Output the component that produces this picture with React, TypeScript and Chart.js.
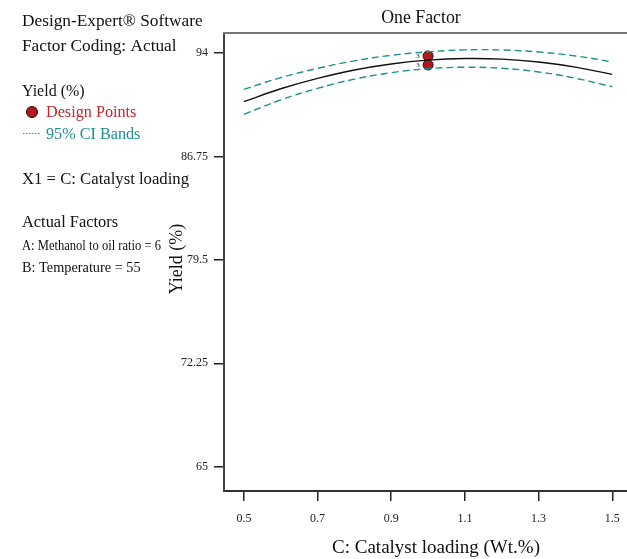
import React, { useEffect, useRef } from "react";
import { Chart, registerables } from "chart.js";

Chart.register(...registerables);

const xValues = [0.5, 0.6, 0.7, 0.8, 0.9, 1.0, 1.1, 1.2, 1.3, 1.4, 1.5];
const predicted = [90.59, 91.49, 92.22, 92.81, 93.23, 93.5, 93.61, 93.57, 93.37, 93.01, 92.5];
const ciUpper = [91.45, 92.27, 92.92, 93.45, 93.84, 94.08, 94.22, 94.21, 94.07, 93.79, 93.38];
const ciLower = [89.7, 90.71, 91.52, 92.17, 92.62, 92.9, 93.0, 92.93, 92.67, 92.23, 91.63];
const designX = [1.0, 1.0];
const designY = [93.79, 93.16];
const replicateLabels = ["3", "3"];
const xTicks = [0.5, 0.7, 0.9, 1.1, 1.3, 1.5];
const xTickLabels = ["0.5", "0.7", "0.9", "1.1", "1.3", "1.5"];
const yTicks = [65, 72.25, 79.5, 86.75, 94];
const yTickLabels = ["65", "72.25", "79.5", "86.75", "94"];

const SERIF = "'Liberation Serif', 'DejaVu Serif', serif";
const TEAL = "#1b9190";
const RED = "#c1272d";

const textPlugin = {
  id: "textPlugin",
  afterDraw(chart: any) {
    const ctx = chart.ctx;
    const ca = chart.chartArea;
    ctx.save();
    // top border
    ctx.strokeStyle = "#777";
    ctx.lineWidth = 2;
    ctx.beginPath();
    ctx.moveTo(ca.left - 1, ca.top);
    ctx.lineTo(627, ca.top);
    ctx.stroke();

    ctx.textBaseline = "middle";
    ctx.textAlign = "left";
    ctx.fillStyle = "#111";
    ctx.font = `17.3px ${SERIF}`;
    ctx.fillText("Design-Expert® Software", 22, 21);
    ctx.fillText("Factor Coding: Actual", 22, 46);
    ctx.font = `16px ${SERIF}`;
    ctx.fillText("Yield (%)", 22, 92);
    // legend marker
    ctx.beginPath();
    ctx.arc(32, 112, 5.5, 0, Math.PI * 2);
    ctx.fillStyle = "#b3181e";
    ctx.fill();
    ctx.strokeStyle = "#2a0505";
    ctx.lineWidth = 1;
    ctx.stroke();
    ctx.font = `16.2px ${SERIF}`;
    ctx.fillStyle = RED;
    ctx.fillText("Design Points", 46, 113);
    ctx.strokeStyle = TEAL;
    ctx.setLineDash([1.5, 1.5]);
    ctx.beginPath();
    ctx.moveTo(23, 133.5);
    ctx.lineTo(41, 133.5);
    ctx.stroke();
    ctx.setLineDash([]);
    ctx.fillStyle = TEAL;
    ctx.fillText("95% CI Bands", 46, 135);
    ctx.fillStyle = "#111";
    ctx.font = `16.7px ${SERIF}`;
    ctx.fillText("X1 = C: Catalyst loading", 22, 180);
    ctx.font = `16.4px ${SERIF}`;
    ctx.fillText("Actual Factors", 22, 223);
    ctx.font = `14.3px ${SERIF}`;
    ctx.fillText("A: Methanol to oil ratio = 6", 22, 246, 139);
    ctx.fillText("B: Temperature = 55", 22, 268);

    // title
    ctx.textAlign = "center";
    ctx.font = `17.8px ${SERIF}`;
    ctx.fillText("One Factor", 421, 18);
    // x title
    ctx.font = `19px ${SERIF}`;
    ctx.fillText("C: Catalyst loading (Wt.%)", 436, 548);
    // y title
    ctx.save();
    ctx.translate(177, 259);
    ctx.rotate(-Math.PI / 2);
    ctx.font = `18px ${SERIF}`;
    ctx.fillText("Yield (%)", 0, 0);
    ctx.restore();

    // replicate labels
    const xs = chart.scales.x;
    const ys = chart.scales.y;
    ctx.font = `7px ${SERIF}`;
    ctx.fillStyle = "#222";
    designX.forEach((dx, i) => {
      const px = xs.getPixelForValue(dx) - 10;
      const py = ys.getPixelForValue(designY[i]);
      ctx.fillText(replicateLabels[i], px, py);
    });
    ctx.restore();
  },
};

export default function App() {
  const ref = useRef<HTMLCanvasElement>(null);
  useEffect(() => {
    if (!ref.current) return;
    const line = (vals: number[]) => xValues.map((x, i) => ({ x, y: vals[i] }));
    const chart = new Chart(ref.current, {
      type: "line",
      data: {
        datasets: [
          {
            data: line(ciUpper),
            borderColor: TEAL,
            borderWidth: 1.4,
            borderDash: [7, 4],
            pointRadius: 0,
            tension: 0.4,
            fill: false,
          },
          {
            data: line(ciLower),
            borderColor: TEAL,
            borderWidth: 1.4,
            borderDash: [7, 4],
            pointRadius: 0,
            tension: 0.4,
            fill: false,
          },
          {
            data: line(predicted),
            borderColor: "#111",
            borderWidth: 1.4,
            pointRadius: 0,
            tension: 0.4,
            fill: false,
          },
          {
            type: "scatter",
            data: designX.map((x, i) => ({ x, y: designY[i] })),
            backgroundColor: "#b3181e",
            borderColor: "#3a0808",
            borderWidth: 1,
            pointRadius: 5,
          } as any,
        ],
      },
      options: {
        animation: false,
        responsive: false,
        maintainAspectRatio: false,
        layout: { autoPadding: false, padding: { top: 33, right: 0, left: 0, bottom: 0 } },
        plugins: {
          legend: { display: false },
          title: { display: false },
          tooltip: { enabled: false },
        },
        scales: {
          x: {
            type: "linear",
            min: 0.446,
            max: 1.54,
            afterBuildTicks: (s: any) => {
              s.ticks = xTicks.map((v) => ({ value: v }));
            },
            afterFit: (s: any) => {
              s.height = 68;
              s.paddingLeft = 0;
              s.paddingRight = 0;
            },
            ticks: {
              callback: (v: any) => {
                const i = xTicks.findIndex((t) => Math.abs(t - v) < 1e-6);
                return i >= 0 ? xTickLabels[i] : "";
              },
              font: { family: SERIF, size: 12 },
              color: "#222",
              padding: 11,
              maxRotation: 0,
            },
            grid: {
              drawOnChartArea: false,
              drawTicks: true,
              tickLength: 10,
              color: "#222",
              lineWidth: 1.5,
            },
            border: { display: true, color: "#333", width: 2 },
          },
          y: {
            type: "linear",
            min: 63.3,
            max: 95.4,
            afterBuildTicks: (s: any) => {
              s.ticks = yTicks.map((v) => ({ value: v }));
            },
            afterFit: (s: any) => {
              s.width = 224;
              s.paddingTop = 0;
              s.paddingBottom = 0;
            },
            ticks: {
              callback: (v: any) => {
                const i = yTicks.findIndex((t) => Math.abs(t - v) < 1e-6);
                return i >= 0 ? yTickLabels[i] : "";
              },
              font: { family: SERIF, size: 12 },
              color: "#222",
              padding: 6,
            },
            grid: {
              drawOnChartArea: false,
              drawTicks: true,
              tickLength: 10,
              color: "#222",
              lineWidth: 1.5,
            },
            border: { display: true, color: "#444", width: 2 },
          },
        },
      },
      plugins: [textPlugin],
    } as any);
    return () => chart.destroy();
  }, []);
  return (
    <div style={{ position: "fixed", left: 0, top: 0, width: 627, height: 559, background: "#fff" }}>
      <canvas ref={ref} width={627} height={559} style={{ display: "block" }} />
    </div>
  );
}
